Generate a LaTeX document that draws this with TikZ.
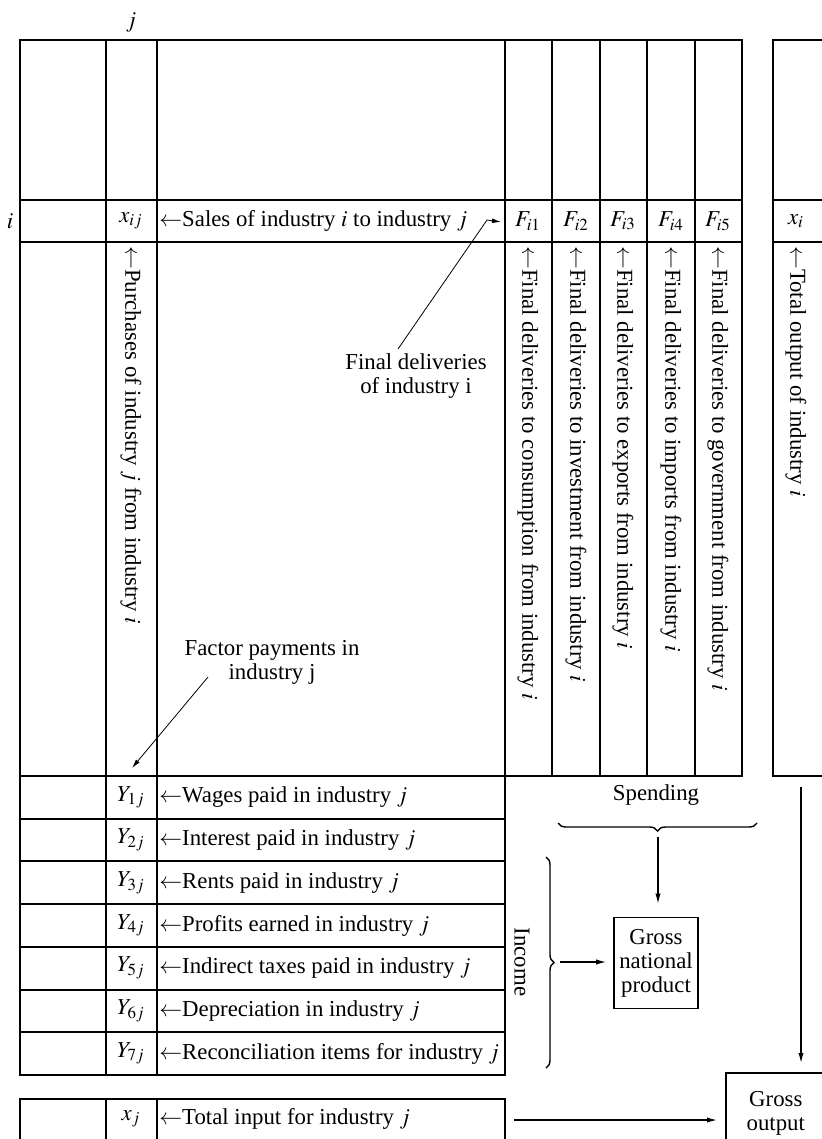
\documentclass[tikz,border=0pt]{standalone}
\usepackage{mathptmx}
\usepackage{fontspec}
\setmainfont{Liberation Serif}
\usetikzlibrary{arrows.meta,positioning,decorations.pathreplacing}

\begin{document}
\begin{tikzpicture}[
  x=0.5pt, y=-0.5pt,
  font=\fontsize{11.4}{12}\selectfont,
  rule/.style={line width=1pt},
  cell/.style={inner sep=1pt},
  rowtext/.style={anchor=west,inner sep=1pt},
  vtext/.style={rotate=-90,anchor=west,inner sep=1pt},
  note/.style={align=center,inner sep=1pt},
  total/.style={draw,line width=0.8pt,align=center,inner sep=2pt},
  arrow/.style={-{Latex[length=5pt,width=2.6pt]},line width=0.6pt},
  leader/.style={line width=0.4pt},
  brace/.style={decorate,decoration={brace,amplitude=4pt},line width=0.7pt}
]
\useasboundingbox (0,0) rectangle (822,1139);

% upper block: flows between industries and final deliveries
\draw[rule] (20,40) rectangle (742,776);
\draw[rule] (20,200) -- (742,200) (20,242) -- (742,242);
\foreach \x in {106,157,505,552,600,647,695}
  \draw[rule] (\x,40) -- (\x,776);
% total output block
\draw[rule] (830,40) -- (773,40) -- (773,776) -- (830,776);
\draw[rule] (773,200) -- (830,200) (773,242) -- (830,242);
% factor payments block
\draw[rule] (20,776) rectangle (505,1075);
\foreach \k in {1,...,6}
  \draw[rule] (20,776+42.7*\k) -- (505,776+42.7*\k);
\draw[rule] (106,776) -- (106,1075) (157,776) -- (157,1075);
% total input row
\draw[rule] (20,1150) -- (20,1099) -- (505,1099) -- (505,1150);
\draw[rule] (106,1099) -- (106,1150) (157,1099) -- (157,1150);

% row and column indices
\node (colj) at (131,22) {$j$};
\node (rowi) at (10,221) {$i$};

% row i
\node[cell] (xij) at (131,221) {$x_{ij}$};
\node[rowtext] (sales) at (157,221) {$\leftarrow$Sales of industry $i$ to industry $j$};
\foreach \n/\x in {1/528,2/576,3/623,4/671,5/718}
  \node[cell] (F\n) at (\x,221) {$F_{i\n}$};
\node[cell] (xi) at (796,221) {$x_i$};

% column texts
\node[vtext] (purch) at (131,244) {$\leftarrow$Purchases of industry $j$ from industry $i$};
\foreach \n/\x/\t in {1/528/consumption,2/576/investment,3/623/exports,4/671/imports,5/718/government}
  \node[vtext] (fd\n) at (\x,244) {$\leftarrow$Final deliveries to \t\ from industry $i$};
\node[vtext] (out) at (796,244) {$\leftarrow$Total output of industry $i$};

% factor payments
\foreach \k/\t in {1/Wages paid in industry,2/Interest paid in industry,3/Rents paid in industry,4/Profits earned in industry,5/Indirect taxes paid in industry,6/Depreciation in industry,7/Reconciliation items for industry}{
  \node[cell] (Y\k) at (131,776+42.7*\k-21.35) {$Y_{\k j}$};
  \node[rowtext] (yt\k) at (157,776+42.7*\k-21.35) {$\leftarrow$\t\ $j$};
}
\node[cell] (xj) at (131,1119) {$x_j$};
\node[rowtext] (input) at (157,1119) {$\leftarrow$Total input for industry $j$};

% notes with leaders
\node[note] (fdnote) at (416,376) {Final deliveries\\of industry i};
\coordinate (fdfoot) at (398,349);
\coordinate (fdtip) at (501,222);
\draw[leader,-{Latex[length=4.5pt,width=2.4pt]}] (fdfoot) -- (487,220) -- (fdtip);
\node[note] (fpnote) at (272,662) {Factor payments in\\industry j};
\coordinate (fpfoot) at (208,677);
\coordinate (fptip) at (132,768);
\draw[leader,-{Latex[length=4.5pt,width=2.4pt]}] (fpfoot) -- (fptip);

% spending and income
\node (spend) at (656,795) {Spending};
\draw[brace] (757,823) -- (558,823);
\coordinate (spendtip) at (658,831);
\draw[brace] (546,857) -- (546,1068);
\coordinate (inctip) at (554,962);
\node[rotate=-90] (income) at (522,962) {Income};
\node[total,minimum width=42pt,minimum height=45.5pt] (gnp) at (656,963) {Gross\\national\\product};
\draw[arrow,shorten <=3pt,shorten >=6.5pt] (spendtip) -- (spendtip |- gnp.north);
\draw[arrow,shorten <=3pt,shorten >=3.5pt] (inctip) -- (inctip -| gnp.west);

% gross output
\node[total,anchor=north west,minimum width=50pt,minimum height=41pt] (gout) at (725,1072) {Gross\\output};
\coordinate (outfoot) at (801,776);
\coordinate (inputend) at (505,1120);
\draw[arrow,shorten <=5.5pt,shorten >=4.5pt] (outfoot) -- (outfoot |- gout.north);
\draw[arrow,shorten <=4.5pt,shorten >=4pt] (inputend) -- (inputend -| gout.west);
\end{tikzpicture}
\end{document}
